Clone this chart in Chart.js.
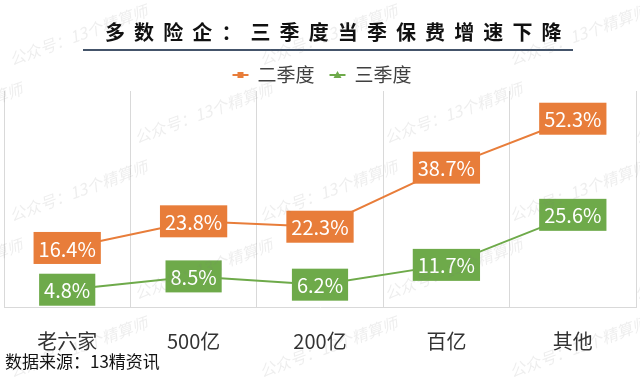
<!DOCTYPE html>
<html lang="zh">
<head>
<meta charset="UTF-8">
<title>多数险企：三季度当季保费增速下降</title>
<script src="https://cdn.jsdelivr.net/npm/chart.js"></script>
<style>
  html, body { margin: 0; padding: 0; background: #fff; }
  #wrap { width: 640px; height: 382px; position: relative; }
</style>
</head>
<body>
<div id="wrap"><canvas id="growthChart" width="640" height="382"></canvas></div>
<script>
  const categories = ['老六家', '500亿', '200亿', '百亿', '其他'];
  const q2Growth = [16.4, 23.8, 22.3, 38.7, 52.3];
  const q3Growth = [4.8, 8.5, 6.2, 11.7, 25.6];
  const seriesNames = ['二季度', '三季度'];
  const seriesColors = ['#E87D3A', '#6EAA4A'];
  const titleText = '多数险企：三季度当季保费增速下降';
  const sourceText = '数据来源：13精资讯';
  const watermarkText = '公众号：13个精算师';
  const fontFamily = '"Noto Sans CJK SC", "Noto Sans", sans-serif';

  // faint tiled watermark, drawn over everything like the original
  const watermarkPlugin = {
    id: 'watermark',
    afterDraw(chart) {
      const ctx = chart.ctx;
      ctx.save();
      ctx.font = 'italic 16px ' + fontFamily;
      ctx.fillStyle = 'rgba(120,120,120,0.13)';
      ctx.textBaseline = 'middle';
      for (let row = 0; row < 6; row++) {
        for (let col = -1; col < 4; col++) {
          const x = col * 250 + (row % 2) * 125 + 10;
          const y = 60 + row * 78;
          ctx.save();
          ctx.translate(x, y);
          ctx.rotate(-20 * Math.PI / 180);
          ctx.fillText(watermarkText, 0, 0);
          ctx.restore();
        }
      }
      ctx.restore();
    }
  };

  // boxed value labels sitting on each point
  const valueLabelPlugin = {
    id: 'valueLabels',
    afterDatasetsDraw(chart) {
      const ctx = chart.ctx;
      ctx.save();
      ctx.font = '20px ' + fontFamily;
      ctx.textAlign = 'center';
      ctx.textBaseline = 'middle';
      chart.data.datasets.forEach((ds, i) => {
        const meta = chart.getDatasetMeta(i);
        meta.data.forEach((pt, j) => {
          const txt = ds.data[j].toFixed(1) + '%';
          const w = ctx.measureText(txt).width + 10;
          const h = 32;
          ctx.fillStyle = ds.borderColor;
          ctx.fillRect(pt.x - w / 2, pt.y - h / 2, w, h);
          ctx.fillStyle = '#ffffff';
          ctx.fillText(txt, pt.x, pt.y + 1);
        });
      });
      ctx.restore();
    }
  };

  // title with underline, legend and source note
  const decorPlugin = {
    id: 'decor',
    afterDraw(chart) {
      const ctx = chart.ctx;
      ctx.save();
      // title, spaced out char by char
      ctx.font = 'bold 20px ' + fontFamily;
      ctx.fillStyle = '#111111';
      ctx.textBaseline = 'middle';
      ctx.textAlign = 'left';
      const chars = Array.from(titleText);
      const step = 29.1;
      chars.forEach((c, i) => ctx.fillText(c, 105 + i * step, 32));
      ctx.strokeStyle = '#44546A';
      ctx.lineWidth = 2;
      ctx.beginPath();
      ctx.moveTo(83, 50);
      ctx.lineTo(573, 50);
      ctx.stroke();

      // legend
      ctx.font = '19px ' + fontFamily;
      const items = chart.data.datasets.map(ds => ({ label: ds.label, color: ds.borderColor }));
      const markW = 16, gap = 9, itemGap = 15;
      const widths = items.map(it => markW + gap + ctx.measureText(it.label).width);
      const total = widths.reduce((a, b) => a + b, 0) + itemGap * (items.length - 1);
      let x = 322 - total / 2;
      const ly = 75;
      items.forEach((it, i) => {
        ctx.strokeStyle = it.color;
        ctx.lineWidth = 2;
        ctx.beginPath();
        ctx.moveTo(x, ly);
        ctx.lineTo(x + markW, ly);
        ctx.stroke();
        ctx.fillStyle = it.color;
        const cx = x + markW / 2;
        if (i === 0) {
          ctx.fillRect(cx - 3, ly - 3, 6, 6);
        } else {
          ctx.beginPath();
          ctx.moveTo(cx, ly - 4);
          ctx.lineTo(cx + 4, ly + 3);
          ctx.lineTo(cx - 4, ly + 3);
          ctx.closePath();
          ctx.fill();
        }
        ctx.fillStyle = '#404040';
        ctx.fillText(it.label, x + markW + gap, ly);
        x += widths[i] + itemGap;
      });

      // source
      ctx.font = '17px ' + fontFamily;
      ctx.fillStyle = '#111111';
      ctx.fillText(sourceText, 5, 362);
      ctx.restore();
    }
  };

  const ctx = document.getElementById('growthChart').getContext('2d');
  const chart = new Chart(ctx, {
    type: 'line',
    data: {
      labels: categories,
      datasets: [
        {
          label: seriesNames[0],
          data: q2Growth,
          borderColor: seriesColors[0],
          backgroundColor: seriesColors[0],
          borderWidth: 2,
          pointRadius: 0,
          tension: 0
        },
        {
          label: seriesNames[1],
          data: q3Growth,
          borderColor: seriesColors[1],
          backgroundColor: seriesColors[1],
          borderWidth: 2,
          pointRadius: 0,
          tension: 0
        }
      ]
    },
    options: {
      responsive: false,
      animation: false,
      layout: { padding: { left: 4, right: 4, top: 91, bottom: 7 } },
      plugins: {
        legend: { display: false },
        title: { display: false },
        tooltip: { enabled: false }
      },
      scales: {
        x: {
          offset: true,
          grid: { offset: true, color: '#d9d9d9', drawTicks: false },
          border: { color: '#d9d9d9' },
          ticks: { color: '#333333', padding: 22, font: { size: 20, family: fontFamily } }
        },
        y: { display: false, min: 0, max: 60 }
      }
    },
    plugins: [valueLabelPlugin, decorPlugin, watermarkPlugin]
  });
</script>
</body>
</html>
